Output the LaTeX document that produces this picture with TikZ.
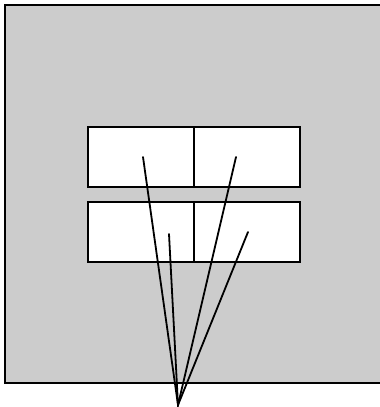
\documentclass[tikz,border=0pt]{standalone}
\begin{document}
\begin{tikzpicture}[x=1pt,y=-1pt,
  cell/.style={draw=black,fill=white,line width=2pt,minimum width=106pt,minimum height=60pt,inner sep=0pt,outer sep=0pt},
  pointer/.style={draw=black,line width=1.8pt,line cap=round}]
\useasboundingbox (0,0) rectangle (380,407);
\fill[black!20] (5,5) rectangle (386,383);
\draw[line width=2.2pt] (386,5) -- (5,5) -- (5,383) -- (386,383);
\node[cell,anchor=north west] (a) at (88,127) {};
\node[cell,anchor=north west] (b) at (194,127) {};
\node[cell,anchor=north west] (c) at (88,202) {};
\node[cell,anchor=north west] (d) at (194,202) {};
\coordinate (apex) at (178,405);
\coordinate (pa) at (143,157);
\coordinate (pb) at (236,157);
\coordinate (pc) at (169,234);
\coordinate (pd) at (248,232);
\draw[pointer] (pa) -- (apex) -- (pb);
\draw[pointer] (pc) -- (apex) -- (pd);
\end{tikzpicture}
\end{document}
